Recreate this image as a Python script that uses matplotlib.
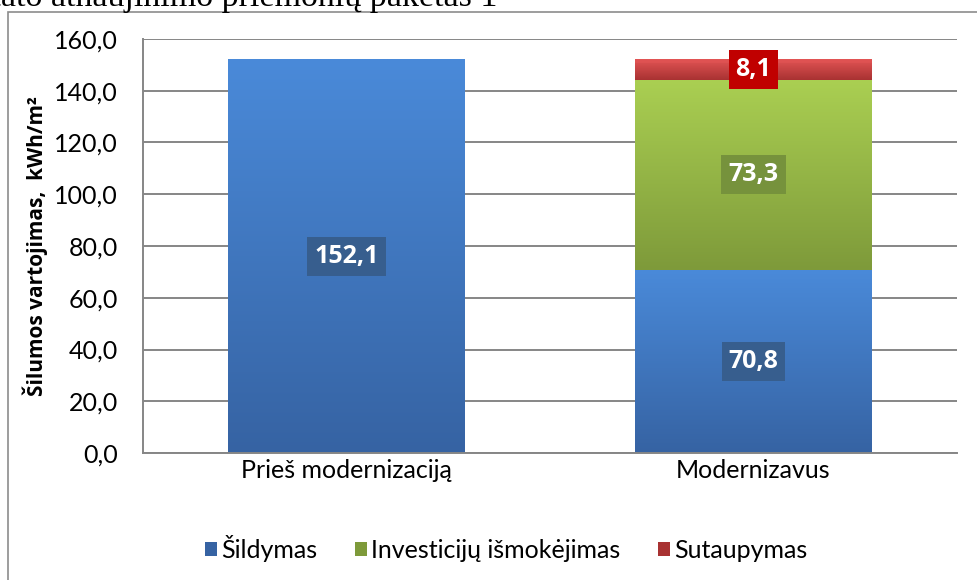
import matplotlib.pyplot as plt
import numpy as np
from matplotlib.patches import Rectangle
from matplotlib.colors import LinearSegmentedColormap

categories = ["Prieš modernizaciją", "Modernizavus"]
series_names = ["Šildymas", "Investicijų išmokėjimas", "Sutaupymas"]
sildymas = [152.1, 70.8]
investicijos = [0.0, 73.3]
sutaupymas = [0.0, 8.1]
yticks = [0, 20, 40, 60, 80, 100, 120, 140, 160]

# (top, bottom, label box) colours per series
colors = [("#4A8AD9", "#3663A3", "#375E8E"),
          ("#AACF52", "#7E9A3A", "#76923C"),
          ("#E25454", "#A83232", "#C00000")]

plt.rcParams['font.family'] = ['Lato', 'DejaVu Sans']

fig = plt.figure(figsize=(9.78, 5.8), dpi=100)
ax = fig.add_axes([143 / 978, 1 - 453 / 580, (957 - 143) / 978, (453 - 39) / 580])

# outer chart frame (cut by the image edge)
fig.patches.append(Rectangle((8 / 978, -0.05), 1.2, 1 - 12 / 580 + 0.05,
                             transform=fig.transFigure, fill=False,
                             edgecolor="#8c8c8c", linewidth=1.2))

# caption cut off at the top of the image
fig.text(497 / 978, 1 - 6 / 580, "Pastato atnaujinimo priemonių paketas 1",
         ha="right", va="baseline", fontsize=24.5, family="Liberation Serif")

x = np.arange(len(categories))
width = 0.58
bottom = np.zeros(len(categories))
for vals, name, (ctop, cbot, cbox) in zip([sildymas, investicijos, sutaupymas],
                                         series_names, colors):
    vals = np.array(vals)
    bars = ax.bar(x, vals, width, bottom=bottom, color=cbot, label=name,
                  edgecolor="none", zorder=2)
    cmap = LinearSegmentedColormap.from_list(name, [cbot, ctop])
    grad = np.linspace(0, 1, 256).reshape(-1, 1)
    for b, v, b0 in zip(bars, vals, bottom):
        if v <= 0:
            continue
        im = ax.imshow(grad, cmap=cmap, aspect="auto", origin="lower",
                       extent=[b.get_x(), b.get_x() + b.get_width(), b0, b0 + v],
                       zorder=2.5)
        im.set_clip_path(b)
        # light top bevel
        ax.add_patch(Rectangle((b.get_x(), b0 + v - 1.6), b.get_width(), 1.6,
                               facecolor=ctop, alpha=0.6, edgecolor="none",
                               zorder=2.6))
        ax.text(b.get_x() + b.get_width() / 2, b0 + v / 2,
                f"{v:.1f}".replace(".", ","), ha="center", va="center",
                color="white", fontsize=18, fontweight="bold",
                family="Open Sans", zorder=4,
                bbox=dict(boxstyle="square,pad=0.28", facecolor=cbox,
                          edgecolor="none"))
    bottom += vals

ax.set_xlim(-0.5, 1.5)
ax.set_ylim(0, 160)
ax.set_yticks(yticks)
ax.set_yticklabels([f"{t:.1f}".replace(".", ",") for t in yticks], fontsize=18)
ax.set_xticks(x)
ax.set_xticklabels(categories, fontsize=18)
ax.tick_params(axis="x", length=0, pad=4)
ax.tick_params(axis="y", length=0, pad=18)
ax.yaxis.grid(True, color="#868686", linewidth=1.4, zorder=0)
ax.set_axisbelow(True)
for s in ["top", "right"]:
    ax.spines[s].set_visible(False)
for s in ["left", "bottom"]:
    ax.spines[s].set_color("#868686")
    ax.spines[s].set_linewidth(1.4)

ax.set_ylabel("Šilumos vartojimas,  kWh/m²", fontsize=15, fontweight="bold",
              family="Open Sans")
ax.yaxis.set_label_coords(-0.117, 0.5)

handles, labels = ax.get_legend_handles_labels()
fig.legend(handles, labels, loc="center", bbox_to_anchor=(506 / 978, 1 - 548 / 580),
           ncol=3, frameon=False, fontsize=18, handlelength=0.5,
           handleheight=0.5, handletextpad=0.15, columnspacing=1.5)

fig.savefig("out.png", dpi=100)
